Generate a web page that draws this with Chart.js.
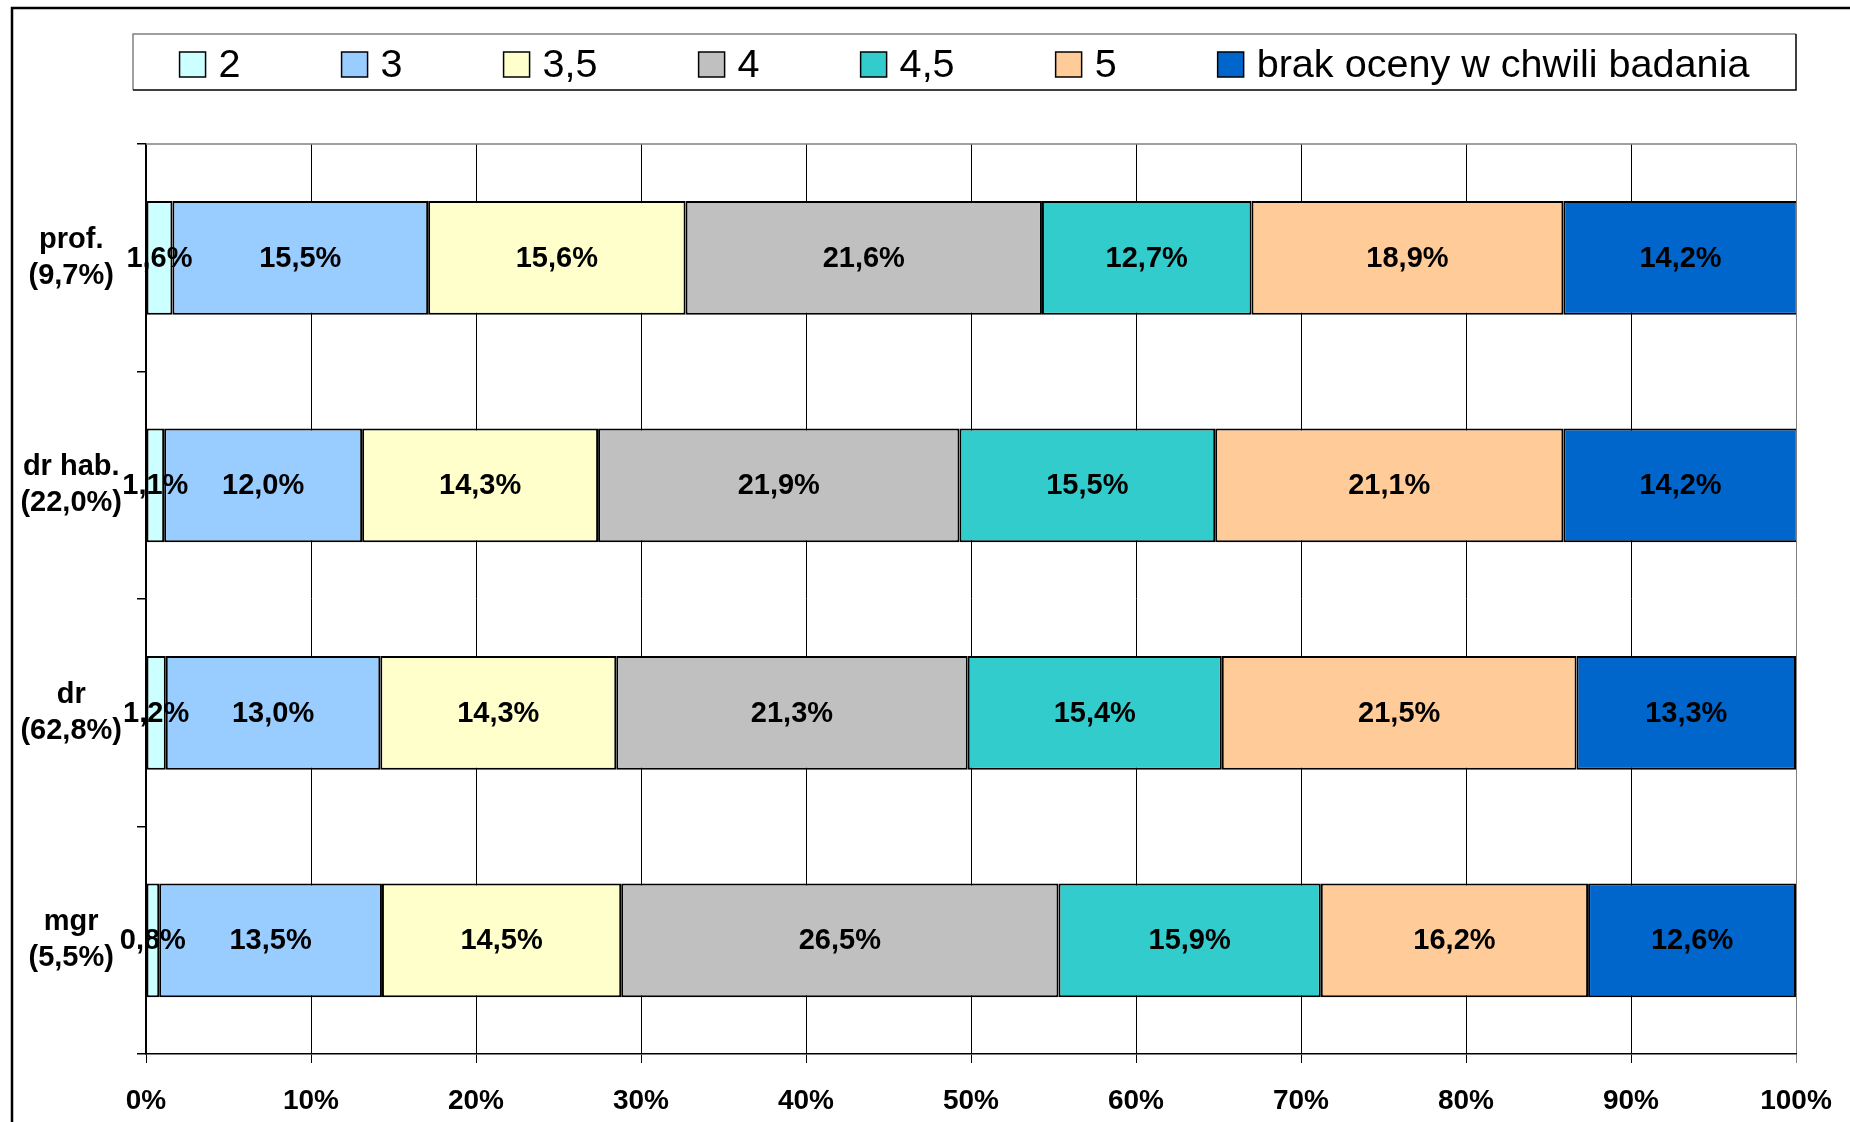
<!DOCTYPE html>
<html>
<head>
<meta charset="utf-8">
<title>Oceny wg stopnia</title>
<script src="https://cdn.jsdelivr.net/npm/chart.js@4.4.1/dist/chart.umd.min.js"></script>
<style>
    body { margin: 0; background: #fff; }
    #wrap { width: 1850px; height: 1122px; position: relative; }
</style>
</head>
<body>
<div id="wrap"><canvas id="chart"></canvas></div>
<script>
// rows, top to bottom
const categories = [
    ['prof.', '(9,7%)'],
    ['dr hab.', '(22,0%)'],
    ['dr', '(62,8%)'],
    ['mgr', '(5,5%)']
];
const seriesNames = ['2', '3', '3,5', '4', '4,5', '5', 'brak oceny w chwili badania'];

// one array per grade, in row order
const grade2 = [1.6, 1.1, 1.2, 0.8];
const grade3 = [15.5, 12.0, 13.0, 13.5];
const grade35 = [15.6, 14.3, 14.3, 14.5];
const grade4 = [21.6, 21.9, 21.3, 26.5];
const grade45 = [12.7, 15.5, 15.4, 15.9];
const grade5 = [18.9, 21.1, 21.5, 16.2];
const noGrade = [14.2, 14.2, 13.3, 12.6];

const xTickLabels = ['0%', '10%', '20%', '30%', '40%', '50%', '60%', '70%', '80%', '90%', '100%'];

const seriesColors = ['#CCFFFF', '#99CCFF', '#FFFFCC', '#C0C0C0', '#33CCCC', '#FFCC99', '#0066CC'];
const FONT = '"Liberation Sans", Arial, Helvetica, sans-serif';

const seriesData = [grade2, grade3, grade35, grade4, grade45, grade5, noGrade];

const datasets = seriesData.map((values, i) => ({
    label: seriesNames[i],
    data: values,
    backgroundColor: seriesColors[i],
    borderColor: '#000',
    borderWidth: 2,
    borderSkipped: false,
    barPercentage: 0.5,
    categoryPercentage: 1.0
}));

function fmt(v) {
    return v.toFixed(1).replace('.', ',') + '%';
}

// white page, outer frame and top edge of the plot area
const framePlugin = {
    id: 'framePlugin',
    beforeDraw(chart) {
        const ctx = chart.ctx;
        ctx.save();
        ctx.fillStyle = '#fff';
        ctx.fillRect(0, 0, chart.width, chart.height);
        ctx.restore();
    },
    afterDraw(chart) {
        const ctx = chart.ctx;
        const area = chart.chartArea;
        ctx.save();
        ctx.strokeStyle = '#000';
        ctx.lineWidth = 2.5;
        ctx.beginPath();
        ctx.moveTo(12, chart.height);
        ctx.lineTo(12, 8);
        ctx.lineTo(chart.width, 8);
        ctx.stroke();

        ctx.strokeStyle = '#808080';
        ctx.lineWidth = 1.5;
        ctx.beginPath();
        ctx.moveTo(area.left, area.top);
        ctx.lineTo(area.right, area.top);
        ctx.stroke();
        ctx.restore();
    }
};

// legend in a box above the plot
const legendPlugin = {
    id: 'legendPlugin',
    afterDraw(chart) {
        const ctx = chart.ctx;
        const area = chart.chartArea;
        const boxL = area.left - 13, boxR = area.right, boxT = 34, boxB = 90;
        const sw = 26, sh = 25, textGap = 13, itemGap = 101, baseline = 77;

        ctx.save();
        ctx.lineWidth = 1.5;
        ctx.fillStyle = '#fff';
        ctx.fillRect(boxL, boxT, boxR - boxL, boxB - boxT);
        ctx.strokeStyle = '#808080';
        ctx.beginPath();
        ctx.moveTo(boxL, boxB);
        ctx.lineTo(boxL, boxT);
        ctx.lineTo(boxR, boxT);
        ctx.stroke();
        ctx.strokeStyle = '#000';
        ctx.beginPath();
        ctx.moveTo(boxR, boxT);
        ctx.lineTo(boxR, boxB);
        ctx.lineTo(boxL, boxB);
        ctx.stroke();

        ctx.font = '39.6px ' + FONT;
        const widths = chart.data.datasets.map(ds => sw + textGap + ctx.measureText(ds.label).width);
        const total = widths.reduce((a, b) => a + b, 0) + itemGap * (widths.length - 1);
        let x = (boxL + boxR) / 2 - total / 2;

        chart.data.datasets.forEach((ds, i) => {
            ctx.fillStyle = ds.backgroundColor;
            ctx.fillRect(x, baseline - sh, sw, sh);
            ctx.strokeStyle = '#000';
            ctx.lineWidth = 1.5;
            ctx.strokeRect(x, baseline - sh, sw, sh);
            ctx.fillStyle = '#000';
            ctx.textAlign = 'left';
            ctx.textBaseline = 'alphabetic';
            ctx.fillText(ds.label, x + sw + textGap, baseline);
            x += widths[i] + itemGap;
        });
        ctx.restore();
    }
};

// value labels centred on each segment
const valueLabels = {
    id: 'valueLabels',
    afterDatasetsDraw(chart) {
        const ctx = chart.ctx;
        ctx.save();
        ctx.font = 'bold 29px ' + FONT;
        ctx.fillStyle = '#000';
        ctx.textAlign = 'center';
        ctx.textBaseline = 'middle';
        chart.data.datasets.forEach((ds, i) => {
            const meta = chart.getDatasetMeta(i);
            meta.data.forEach((bar, j) => {
                const p = bar.getCenterPoint();
                ctx.fillText(fmt(ds.data[j]), p.x, p.y + 1);
            });
        });
        ctx.restore();
    }
};

new Chart(document.getElementById('chart'), {
    type: 'bar',
    data: {
        labels: categories,
        datasets: datasets
    },
    options: {
        indexAxis: 'y',
        responsive: true,
        maintainAspectRatio: false,
        animation: false,
        layout: {
            padding: { top: 144, right: 54, left: 0, bottom: 0 }
        },
        plugins: {
            legend: { display: false },
            tooltip: { enabled: false }
        },
        scales: {
            x: {
                stacked: true,
                min: 0,
                max: 100,
                afterFit: scale => {
                    scale.height = 68;
                    scale.paddingRight = 0;
                    scale.paddingLeft = 0;
                },
                ticks: {
                    stepSize: 10,
                    padding: 21,
                    color: '#000',
                    font: { family: FONT, size: 28, weight: 'bold' },
                    callback: (value, index) => xTickLabels[index]
                },
                grid: {
                    color: ctx => (ctx.tick && ctx.tick.value === 100) ? '#808080' : '#000',
                    lineWidth: 1,
                    tickLength: 9
                },
                border: { color: '#000', width: 1.5 }
            },
            y: {
                stacked: true,
                afterFit: scale => {
                    scale.width = 146;
                    scale.paddingTop = 0;
                    scale.paddingBottom = 0;
                },
                ticks: {
                    padding: 15,
                    crossAlign: 'center',
                    color: '#000',
                    font: { family: FONT, size: 29, weight: 'bold', lineHeight: 1.25 }
                },
                grid: {
                    drawOnChartArea: false,
                    drawTicks: true,
                    tickLength: 9,
                    offset: true,
                    color: '#000',
                    lineWidth: 1.5
                },
                border: { color: '#000', width: 1.5 }
            }
        }
    },
    plugins: [framePlugin, legendPlugin, valueLabels]
});
</script>
</body>
</html>
